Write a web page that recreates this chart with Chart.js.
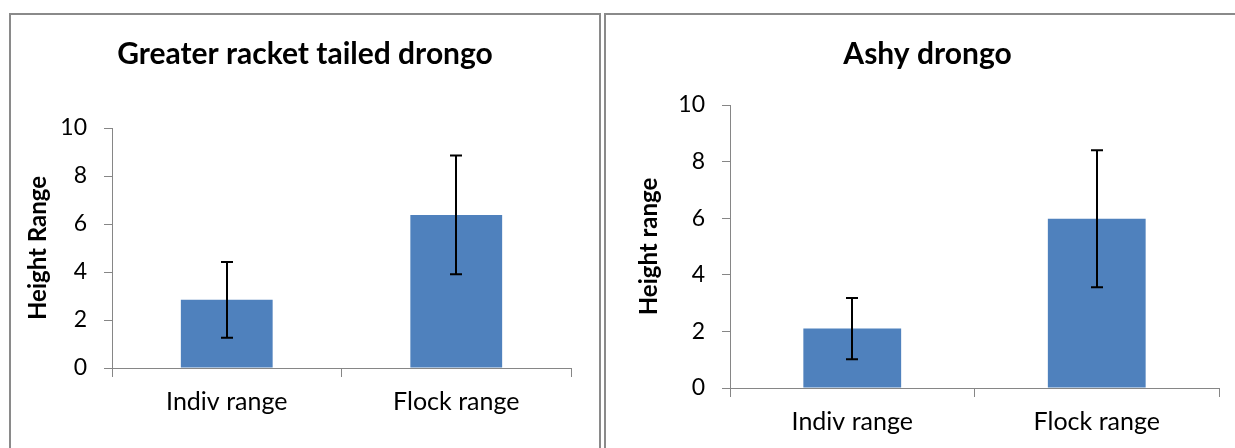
<!DOCTYPE html>
<html>
<head>
<meta charset="utf-8">
<script src="https://cdn.jsdelivr.net/npm/chart.js@4.4.1/dist/chart.umd.min.js"></script>
<style>
  html, body { margin: 0; padding: 0; background: #fff; width: 1235px; height: 448px; overflow: hidden; }
  .panel { position: absolute; border: 2px solid #8a8a8a; box-sizing: border-box; background: #fff; }
  canvas { position: absolute; }
</style>
</head>
<body>
<div class="panel" style="left:9px; top:13px; width:592px; height:460px;"></div>
<div class="panel" style="left:604px; top:13px; width:660px; height:460px;"></div>
<canvas id="c1" width="588" height="434" style="left:11px; top:14px;"></canvas>
<canvas id="c2" width="643" height="434" style="left:606px; top:14px;"></canvas>
<script>
// ---- data ----
const categories = ["Indiv range", "Flock range"];
const tickValues = [0, 2, 4, 6, 8, 10];

const titleLeft = "Greater racket tailed drongo";
const yTitleLeft = "Height Range";
const meansLeft = [2.84, 6.38];
const errorsLeft = [1.58, 2.47];

const titleRight = "Ashy drongo";
const yTitleRight = "Height range";
const meansRight = [2.10, 5.98];
const errorsRight = [1.08, 2.42];

// ---- styling ----
const FONT = "Lato, 'Open Sans', sans-serif";
const AXIS = "#868686";
const BAR = "#4F81BD";

const errorBarPlugin = {
  id: 'errorBars',
  afterDatasetsDraw(chart) {
    const errs = chart.options.plugins.errorBars.errors;
    const ds = chart.data.datasets[0];
    const meta = chart.getDatasetMeta(0);
    const y = chart.scales.y;
    const ctx = chart.ctx;
    ctx.save();
    ctx.strokeStyle = "#000";
    ctx.lineWidth = 2;
    meta.data.forEach((bar, i) => {
      const v = ds.data[i], e = errs[i];
      const yTop = y.getPixelForValue(v + e);
      const yBot = y.getPixelForValue(v - e);
      const x = Math.round(bar.x);
      const cap = 6;
      ctx.beginPath();
      ctx.moveTo(x, yTop); ctx.lineTo(x, yBot);
      ctx.moveTo(x - cap, yTop); ctx.lineTo(x + cap, yTop);
      ctx.moveTo(x - cap, yBot); ctx.lineTo(x + cap, yBot);
      ctx.stroke();
    });
    ctx.restore();
  }
};

function makeChart(id, title, yTitle, means, errors, cfg) {
  return new Chart(document.getElementById(id), {
    type: 'bar',
    data: {
      labels: categories,
      datasets: [{
        data: means,
        backgroundColor: BAR,
        borderWidth: 0,
        barPercentage: 0.4,
        categoryPercentage: 1.0
      }]
    },
    options: {
      responsive: false,
      animation: false,
      events: [],
      layout: { padding: 0 },
      plugins: {
        legend: { display: false },
        tooltip: { enabled: false },
        title: {
          display: true,
          text: title,
          color: "#000",
          font: { family: FONT, size: 30, weight: 'bold', lineHeight: 1.2 },
          padding: { top: cfg.titleTop, bottom: cfg.titleBottom }
        },
        errorBars: { errors: errors }
      },
      scales: {
        x: {
          grid: { display: true, drawOnChartArea: false, offset: true, color: AXIS, tickLength: 9, tickColor: AXIS },
          border: { display: true, color: AXIS, width: 1 },
          ticks: { color: "#000", font: { family: FONT, size: 25 }, padding: 10, maxRotation: 0 },
          afterFit(s) { s.height = cfg.xHeight; }
        },
        y: {
          min: 0, max: 10,
          afterBuildTicks(s) { s.ticks = tickValues.map(v => ({ value: v })); },
          grid: { display: true, drawOnChartArea: false, color: AXIS, tickLength: 8, tickColor: AXIS },
          border: { display: true, color: AXIS, width: 1 },
          ticks: { color: "#000", font: { family: FONT, size: 23 }, padding: 17 },
          title: {
            display: true, text: yTitle, color: "#000",
            font: { family: FONT, size: 24, weight: 'bold', lineHeight: 1.2 },
            padding: { top: cfg.yTitlePad, bottom: 0 }
          },
          afterFit(s) { s.width = cfg.yWidth; }
        },
        spacer: {
          type: 'linear',
          position: 'right',
          display: true,
          grid: { display: false },
          border: { display: false },
          ticks: { display: false },
          afterFit(s) { s.width = cfg.rightW; }
        }
      }
    },
    plugins: [errorBarPlugin]
  });
}

makeChart('c1', titleLeft, yTitleLeft, meansLeft, errorsLeft,
  { rightW: 28, titleTop: 22, titleBottom: 56, xHeight: 80, yWidth: 101, yTitlePad: 13 });
makeChart('c2', titleRight, yTitleRight, meansRight, errorsRight,
  { rightW: 30, titleTop: 22, titleBottom: 33, xHeight: 60, yWidth: 124, yTitlePad: 29 });
</script>
</body>
</html>
